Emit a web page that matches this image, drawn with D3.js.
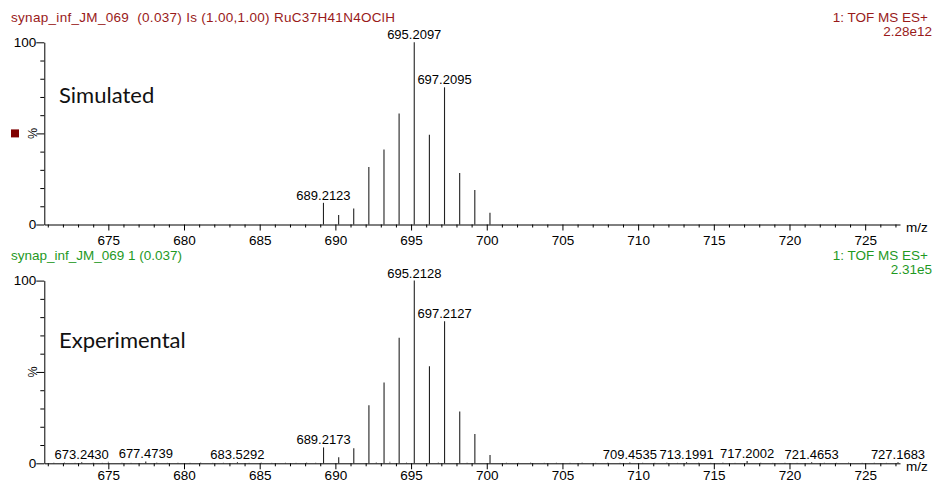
<!DOCTYPE html>
<html>
<head>
<meta charset="utf-8">
<script src="https://cdn.jsdelivr.net/npm/d3@7"></script>
<style>
  body { margin: 0; background: #fff; }
  svg text { font-family: "Liberation Sans", Arial, sans-serif; }
</style>
</head>
<body>
<script>
// simulated isotope pattern
var simMz = [689.2123, 690.2150, 691.2110, 692.2100, 693.2105, 694.2090, 695.2097, 696.2100, 697.2095, 698.2110, 699.2105, 700.2120];
var simInt = [11.9, 5.2, 8.8, 31.6, 41.2, 60.9, 100, 49.3, 75.3, 28.3, 18.9, 6.4];
var simLabels = ["689.2123", "", "", "", "", "", "695.2097", "", "697.2095", "", "", ""];

// experimental spectrum
var expMz = [673.2430, 677.4739, 683.5292, 689.2173, 690.2200, 691.2160, 692.2150, 693.2150, 694.2130, 695.2128, 696.2140, 697.2127, 698.2150, 699.2140, 700.2160, 709.4535, 713.1991, 717.2002, 721.4653, 727.1683];
var expInt = [0.6, 1.0, 0.6, 8.7, 3.3, 8.2, 31.8, 44.2, 68.7, 100, 53.1, 77.8, 28.4, 16.0, 4.5, 0.5, 0.6, 1.2, 0.6, 0.6];
var expLabels = ["673.2430", "677.4739", "683.5292", "689.2173", "", "", "", "", "", "695.2128", "", "697.2127", "", "", "", "709.4535", "713.1991", "717.2002", "721.4653", "727.1683"];

// baseline noise in the experimental trace
var noiseMz = [671.4, 672.1, 672.8, 674.0, 674.6, 675.0, 675.9, 676.5, 678.2, 678.9, 679.6, 680.4, 681.1, 681.9, 682.6, 684.3, 685.1, 685.8, 686.7, 687.4, 688.1, 688.7, 692.7, 693.6, 694.7, 696.8, 698.7, 701.3, 702.1, 702.9, 703.8, 704.6, 705.5, 706.3, 707.2, 708.0, 708.8, 710.3, 711.1, 711.9, 712.6, 714.0, 714.8, 715.6, 716.4, 718.1, 718.9, 719.7, 720.5, 722.3, 723.1, 723.9, 724.8, 725.6, 726.4];
var noiseInt = [0.4, 0.5, 0.3, 0.4, 0.3, 0.9, 0.4, 0.3, 0.5, 0.3, 0.4, 0.3, 0.5, 0.3, 0.4, 0.3, 0.5, 0.3, 0.4, 0.3, 0.5, 0.4, 0.6, 0.9, 0.5, 0.5, 0.4, 0.4, 0.3, 0.5, 0.3, 0.4, 0.3, 0.5, 0.3, 0.4, 0.3, 0.4, 0.3, 0.5, 0.3, 0.4, 0.3, 0.5, 0.3, 0.4, 0.3, 0.4, 0.3, 0.4, 0.3, 0.5, 0.3, 0.4, 0.3];

var yTicks = [0, 10, 20, 30, 40, 50, 60, 70, 80, 90, 100];
var xTicks = d3.range(671, 728);

var width = 936,
    height = 483;

var svg = d3.select("body").append("svg")
    .attr("width", width)
    .attr("height", height);

var x = d3.scaleLinear().domain([670.77, 727.3]).range([44.3, 900]);

var panels = [
  {
    y0: 224.5, y100: 42.3, color: "#991a1a",
    title: "synap_inf_JM_069  (0.037) Is (1.00,1.00) RuC37H41N4OClH", spacing: 0.3,
    scale: "2.28e12", tag: "Simulated", tagY: 103, pad: 8,
    mz: simMz, inten: simInt, labels: simLabels, square: true
  },
  {
    y0: 463.3, y100: 280.6, color: "#1f991f",
    title: "synap_inf_JM_069 1 (0.037)", spacing: 0,
    scale: "2.31e5", tag: "Experimental", tagY: 348, pad: 4.5,
    mz: expMz, inten: expInt, labels: expLabels, noise: true
  }
];

panels.forEach(function(p) {
  var y = d3.scaleLinear().domain([0, 100]).range([p.y0, p.y100]);
  var g = svg.append("g");

  // header texts
  g.append("text")
      .attr("x", 11)
      .attr("y", p.y100 - 20.5)
      .attr("fill", p.color)
      .style("font-size", "13.5px")
      .style("letter-spacing", p.spacing + "px")
      .style("white-space", "pre")
      .text(p.title);
  g.append("text")
      .attr("x", 928)
      .attr("y", p.y100 - 20.5)
      .attr("text-anchor", "end")
      .attr("fill", p.color)
      .style("font-size", "13.5px")
      .text("1: TOF MS ES+");
  g.append("text")
      .attr("x", 932)
      .attr("y", p.y100 - 6.5)
      .attr("text-anchor", "end")
      .attr("fill", p.color)
      .style("font-size", "13.5px")
      .text(p.scale);

  // noise first so sticks sit on top
  if (p.noise) {
    g.selectAll("line.noise")
        .data(noiseMz)
        .enter().append("line")
        .attr("class", "noise")
        .attr("x1", function(d) { return x(d); })
        .attr("x2", function(d) { return x(d); })
        .attr("y1", y(0))
        .attr("y2", function(d, i) { return y(noiseInt[i]); })
        .attr("stroke", "#888")
        .attr("stroke-width", 1);
  }

  // sticks
  g.selectAll("line.stick")
      .data(p.mz)
      .enter().append("line")
      .attr("class", "stick")
      .attr("x1", function(d) { return x(d); })
      .attr("x2", function(d) { return x(d); })
      .attr("y1", y(0))
      .attr("y2", function(d, i) { return y(p.inten[i]); })
      .attr("stroke", "#222")
      .attr("stroke-width", 1.1);

  g.selectAll("text.peak")
      .data(p.mz)
      .enter().append("text")
      .attr("class", "peak")
      .attr("x", function(d) { return x(d); })
      .attr("y", function(d, i) { return y(p.inten[i]) - 3; })
      .attr("text-anchor", "middle")
      .style("font-size", "13px")
      .text(function(d, i) { return p.labels[i]; });

  // x axis
  var xAxis = d3.axisBottom(x)
      .tickValues(xTicks)
      .tickSize(3)
      .tickSizeOuter(0)
      .tickPadding(p.pad)
      .tickFormat(function(d) { return d % 5 === 0 ? d : ""; });
  var xg = g.append("g")
      .attr("transform", "translate(0," + p.y0 + ")")
      .call(xAxis);
  xg.selectAll(".tick line")
      .filter(function(d) { return d % 5 === 0; })
      .attr("y2", 6);
  xg.selectAll("text").style("font-size", "13.5px").attr("fill", "#000");
  xg.selectAll("line, path").attr("stroke", "#000");

  g.append("text")
      .attr("x", 906)
      .attr("y", p.y0 + 7.5)
      .style("font-size", "13.5px")
      .text("m/z");

  // y axis
  var yAxis = d3.axisLeft(y)
      .tickValues(yTicks)
      .tickSize(4)
      .tickSizeOuter(0)
      .tickPadding(4)
      .tickFormat(function(d) { return d === 0 || d === 100 ? d : ""; });
  var yg = g.append("g")
      .attr("transform", "translate(" + x.range()[0] + ",0)")
      .call(yAxis);
  yg.selectAll(".tick line")
      .filter(function(d) { return d % 50 === 0; })
      .attr("x2", -8);
  yg.selectAll("text").style("font-size", "13.5px").attr("fill", "#000");
  yg.selectAll("line, path").attr("stroke", "#000");

  g.append("text")
      .attr("transform", "translate(37," + y(50) + ") rotate(-90)")
      .attr("text-anchor", "middle")
      .style("font-size", "12.5px")
      .text("%");

  if (p.square) {
    g.append("rect")
        .attr("x", 11)
        .attr("y", y(50) - 4)
        .attr("width", 8)
        .attr("height", 8)
        .attr("fill", "#800000");
  }

  g.append("text")
      .attr("x", 59)
      .attr("y", p.tagY)
      .style("font-family", "Lato, 'Open Sans', sans-serif")
      .style("font-size", "22px")
      .attr("fill", "#111")
      .text(p.tag);
});
</script>
</body>
</html>
